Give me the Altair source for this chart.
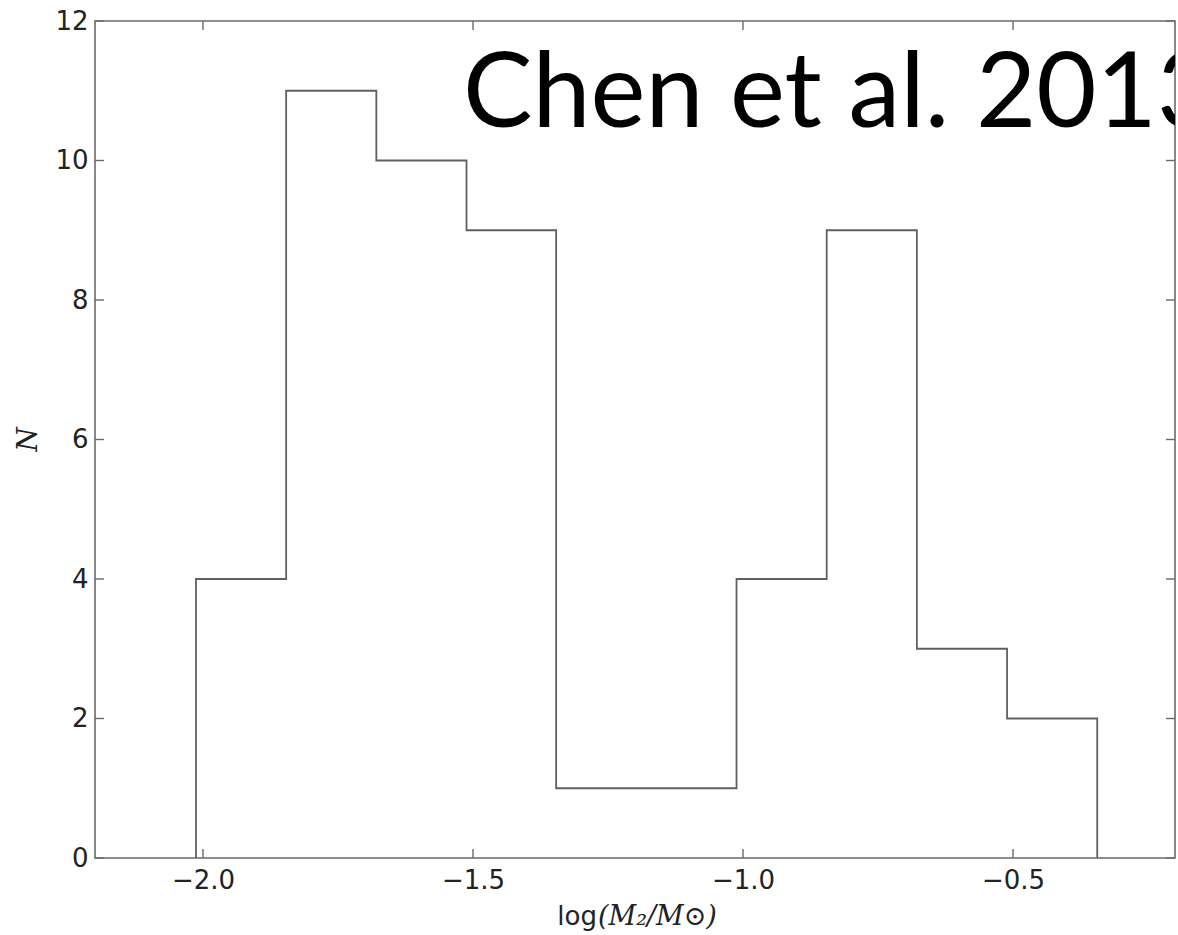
import altair as alt
import pandas as pd

# Histogram of companion masses: bin edges in log(M2/Msun) and counts per bin
bin_edges = [-2.013, -1.846, -1.679, -1.512, -1.346, -1.179,
             -1.012, -0.845, -0.678, -0.511, -0.344]
counts = [4, 11, 10, 9, 1, 1, 4, 9, 3, 2]

x_ticks = [-2.0, -1.5, -1.0, -0.5]
y_ticks = [0, 2, 4, 6, 8, 10, 12]
x_domain = [-2.2, -0.2]
y_domain = [0, 12]

W, H = 1080, 837
FRAME = "#6a6a6a"
TICK_LEN = 9

# Step outline: start on the baseline, then each edge carries the next bin's height
step_y = [0] + counts + [0]
step_x = [bin_edges[0]] + bin_edges
step = pd.DataFrame({"x": step_x, "y": step_y, "order": range(len(step_x))})

xs = alt.Scale(domain=x_domain, nice=False, zero=False)
ys = alt.Scale(domain=y_domain, nice=False)

outline = alt.Chart(step).mark_line(
    interpolate="step-after", color="#606060", strokeWidth=1.8
).encode(
    x=alt.X("x:Q", scale=xs,
            axis=alt.Axis(values=x_ticks, format=".1f", title=None, ticks=False,
                          tickSize=0, domain=False, grid=False,
                          labelFont="DejaVu Sans", labelFontSize=26,
                          labelColor="#222222", labelPadding=9)),
    y=alt.Y("y:Q", scale=ys,
            axis=alt.Axis(values=y_ticks, format="d", title=None, ticks=False,
                          tickSize=0, domain=False, grid=False,
                          labelFont="DejaVu Sans", labelFontSize=26,
                          labelColor="#222222", labelPadding=7)),
    order="order:O",
)

xt = pd.DataFrame({"v": x_ticks})
yt = pd.DataFrame({"v": y_ticks})

# Inward ticks on all four sides of the frame
tick_style = dict(color=FRAME, strokeWidth=1.4)
x_bottom = alt.Chart(xt).mark_rule(**tick_style).encode(
    x=alt.X("v:Q", scale=xs), y=alt.value(H - TICK_LEN), y2=alt.value(H))
x_top = alt.Chart(xt).mark_rule(**tick_style).encode(
    x=alt.X("v:Q", scale=xs), y=alt.value(0), y2=alt.value(TICK_LEN))
y_left = alt.Chart(yt).mark_rule(**tick_style).encode(
    y=alt.Y("v:Q", scale=ys), x=alt.value(0), x2=alt.value(TICK_LEN))
y_right = alt.Chart(yt).mark_rule(**tick_style).encode(
    y=alt.Y("v:Q", scale=ys), x=alt.value(W - TICK_LEN), x2=alt.value(W))

# Axis titles
x_title_log = alt.Chart(pd.DataFrame({"t": ["log"]})).mark_text(
    font="DejaVu Sans", fontSize=26, color="#222222", align="right",
    baseline="alphabetic"
).encode(text="t:N", x=alt.value(502), y=alt.value(904))
x_title_math = alt.Chart(pd.DataFrame({"t": ["(M₂/M⊙)"]})).mark_text(
    font="DejaVu Serif", fontStyle="italic", fontSize=27, color="#222222",
    align="left", baseline="alphabetic"
).encode(text="t:N", x=alt.value(503), y=alt.value(904))
y_title = alt.Chart(pd.DataFrame({"t": ["N"]})).mark_text(
    font="DejaVu Serif", fontStyle="italic", fontSize=28, color="#222222",
    align="center", baseline="middle", angle=270
).encode(text="t:N", x=alt.value(-66), y=alt.value(H / 2))

# Citation overlaid on the plot, clipped at the frame
citation = alt.Chart(pd.DataFrame({"t": ["Chen et al. 2013"]})).mark_text(
    font="Lato", fontSize=104, color="#000000", align="left",
    baseline="alphabetic", clip=True
).encode(text="t:N", x=alt.value(368), y=alt.value(106))

chart = alt.layer(
    outline, x_bottom, x_top, y_left, y_right,
    citation, x_title_log, x_title_math, y_title
).properties(
    width=W, height=H,
    padding={"left": 95, "top": 21, "right": 3, "bottom": 77},
    autosize=alt.AutoSizeParams(type="none"),
    background="white",
).configure_view(stroke=FRAME, strokeWidth=1.6)

chart.save("out.html", embed_options={"renderer": "svg", "actions": False})
